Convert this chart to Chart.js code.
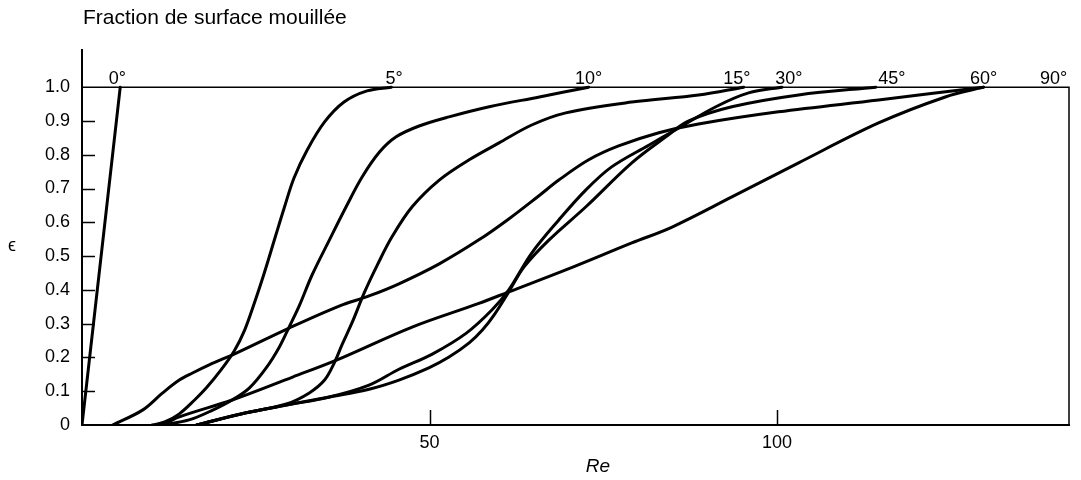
<!DOCTYPE html>
<html>
<head>
<meta charset="utf-8">
<script src="https://cdn.jsdelivr.net/npm/chart.js@4/dist/chart.umd.min.js"></script>
<style>
  html, body { margin: 0; padding: 0; background: #fff; }
  #wrap { width: 1081px; height: 480px; }
</style>
</head>
<body>
<div id="wrap"><canvas id="c" width="1081" height="480"></canvas></div>
<script>
// Fraction de surface mouillée ϵ en fonction de Re, pour plusieurs inclinaisons
const angleNames = ['0°', '5°', '10°', '15°', '30°', '45°', '60°', '90°'];

const re0  = [0, 5.5];
const eps0 = [0, 1.0];

const re5  = [10.1, 11.9, 14.0, 16.2, 17.9, 20.0, 21.9, 23.4, 24.8, 25.9, 26.9, 27.9, 29.1, 30.5, 32.4, 34.9, 37.7, 41.0, 44.5];
const eps5 = [0, 0.009, 0.033, 0.074, 0.110, 0.163, 0.219, 0.281, 0.361, 0.429, 0.495, 0.563, 0.643, 0.731, 0.814, 0.897, 0.956, 0.989, 1.0];

const re10  = [11.6, 15.4, 18.8, 21.6, 24.1, 26.5, 28.4, 29.8, 31.3, 33.1, 35.6, 38.0, 40.3, 42.8, 45.2, 48.5, 52.8, 58.6, 65.8, 72.9];
const eps10 = [0, 0.015, 0.044, 0.074, 0.110, 0.169, 0.231, 0.290, 0.355, 0.444, 0.548, 0.646, 0.734, 0.808, 0.853, 0.885, 0.912, 0.942, 0.971, 1.0];

const re15  = [16.5, 23.6, 29.4, 32.7, 34.9, 36.3, 37.4, 38.9, 40.6, 42.5, 44.6, 47.5, 51.4, 55.7, 60.0, 64.7, 69.6, 79.1, 88.7, 95.2];
const eps15 = [0, 0.036, 0.062, 0.095, 0.133, 0.184, 0.237, 0.305, 0.391, 0.474, 0.557, 0.646, 0.725, 0.785, 0.835, 0.888, 0.924, 0.956, 0.977, 1.0];

const re30  = [16.5, 23.6, 29.4, 35.6, 41.3, 45.6, 50.4, 55.3, 59.0, 61.4, 64.7, 68.6, 72.5, 76.2, 81.6, 84.9, 91.2, 95.9, 100.7];
const eps30 = [0, 0.036, 0.059, 0.083, 0.118, 0.165, 0.210, 0.272, 0.341, 0.400, 0.509, 0.607, 0.696, 0.764, 0.829, 0.868, 0.942, 0.983, 1.0];

const re45  = [16.5, 23.6, 29.4, 35.6, 41.3, 45.6, 49.9, 52.8, 55.7, 57.6, 59.3, 61.4, 63.6, 67.2, 72.5, 79.1, 84.0, 87.3, 93.5, 103.1, 114.2];
const eps45 = [0, 0.036, 0.059, 0.083, 0.106, 0.133, 0.169, 0.201, 0.243, 0.281, 0.326, 0.394, 0.468, 0.548, 0.646, 0.776, 0.853, 0.900, 0.942, 0.977, 1.0];

const re60  = [4.4, 8.7, 11.6, 14.0, 15.9, 18.3, 22.2, 29.8, 37.0, 41.3, 45.6, 51.4, 57.1, 61.4, 65.7, 68.6, 72.9, 77.2, 83.0, 88.7, 100.2, 114.6, 129.7];
const eps60 = [0, 0.044, 0.095, 0.133, 0.154, 0.178, 0.213, 0.287, 0.352, 0.382, 0.418, 0.477, 0.548, 0.610, 0.678, 0.725, 0.785, 0.826, 0.865, 0.891, 0.927, 0.962, 1.0];

const re90  = [11.6, 14.0, 21.6, 30.3, 36.6, 47.5, 57.1, 61.4, 69.6, 79.1, 84.9, 93.5, 103.1, 114.6, 124.2, 129.7];
const eps90 = [0, 0.024, 0.074, 0.142, 0.192, 0.290, 0.360, 0.394, 0.459, 0.539, 0.586, 0.675, 0.776, 0.894, 0.971, 1.0];

// Re where each angle label is centred, above the ϵ = 1 line
const angleLabelRe = [5.1, 44.9, 72.9, 94.2, 101.7, 116.5, 129.7, 139.8];

const xTicks = [50, 100];
const xTickLabels = ['50', '100'];
const yTicks = [0, 0.1, 0.2, 0.3, 0.4, 0.5, 0.6, 0.7, 0.8, 0.9, 1.0];
const yTickLabels = ['0', '0.1', '0.2', '0.3', '0.4', '0.5', '0.6', '0.7', '0.8', '0.9', '1.0'];

const RE_MAX = 142;
const EPS_MAX = 1.11;
const EPS_FULL = 1.0;

const seriesRe  = [re0, re5, re10, re15, re30, re45, re60, re90];
const seriesEps = [eps0, eps5, eps10, eps15, eps30, eps45, eps60, eps90];

const FONT = "'Liberation Sans', Arial, Helvetica, sans-serif";

const datasets = seriesRe.map((xs, k) => ({
  label: angleNames[k],
  data: xs.map((x, i) => ({ x: x, y: seriesEps[k][i] })),
  borderColor: '#000',
  borderWidth: 3,
  borderJoinStyle: 'round',
  borderCapStyle: 'round',
  pointRadius: 0,
  fill: false,
  cubicInterpolationMode: 'default',
  tension: k === 0 ? 0 : 0.35
}));

// frame, inner tick marks and free text
const decor = {
  id: 'decor',
  beforeDatasetsDraw(chart) {
    const { ctx } = chart;
    const xs = chart.scales.x, ys = chart.scales.y;
    ctx.save();
    ctx.strokeStyle = '#000';
    ctx.lineCap = 'butt';
    // ϵ = 1 line and right edge
    ctx.lineWidth = 1.5;
    ctx.beginPath();
    ctx.moveTo(xs.getPixelForValue(0), ys.getPixelForValue(EPS_FULL));
    ctx.lineTo(xs.getPixelForValue(RE_MAX), ys.getPixelForValue(EPS_FULL));
    ctx.lineTo(xs.getPixelForValue(RE_MAX), ys.getPixelForValue(0));
    ctx.stroke();
    // inner ticks on the ϵ axis
    const x0 = xs.getPixelForValue(0);
    yTicks.forEach(v => {
      if (v === 0 || v === EPS_FULL) return;
      const y = Math.round(ys.getPixelForValue(v)) + 0.5;
      ctx.beginPath();
      ctx.moveTo(x0, y);
      ctx.lineTo(x0 + 13, y);
      ctx.stroke();
    });
    // inner ticks on the Re axis
    const y0 = ys.getPixelForValue(0);
    xTicks.forEach(v => {
      const x = Math.round(xs.getPixelForValue(v)) + 0.5;
      ctx.beginPath();
      ctx.moveTo(x, y0);
      ctx.lineTo(x, y0 - 15);
      ctx.stroke();
    });
    ctx.restore();
  },
  afterDatasetsDraw(chart) {
    const { ctx } = chart;
    const xs = chart.scales.x, ys = chart.scales.y;
    ctx.save();
    ctx.fillStyle = '#000';
    // angle labels
    ctx.font = '18px ' + FONT;
    ctx.textAlign = 'center';
    ctx.textBaseline = 'alphabetic';
    const yTop = ys.getPixelForValue(EPS_FULL);
    angleNames.forEach((t, k) => {
      ctx.fillText(t, xs.getPixelForValue(angleLabelRe[k]), yTop - 3);
    });
    // title
    ctx.font = '21px ' + FONT;
    ctx.textAlign = 'left';
    ctx.textBaseline = 'middle';
    ctx.fillText('Fraction de surface mouillée', 83, 18);
    // ϵ axis name
    ctx.font = '18px ' + FONT;
    ctx.textAlign = 'center';
    ctx.fillText('ϵ', 12, 246);
    // Re axis name
    ctx.font = 'italic 19px ' + FONT;
    ctx.fillText('Re', 598, 467);
    ctx.restore();
  }
};

new Chart(document.getElementById('c'), {
  type: 'line',
  data: { datasets },
  options: {
    responsive: false,
    animation: false,
    events: [],
    layout: { padding: { top: 50, right: 12, bottom: 0, left: 0 } },
    plugins: { legend: { display: false }, tooltip: { enabled: false }, title: { display: false } },
    scales: {
      x: {
        type: 'linear',
        min: 0,
        max: RE_MAX,
        afterBuildTicks: s => { s.ticks = xTicks.map(v => ({ value: v })); },
        afterFit: s => { s.height = 55; },
        ticks: {
          callback: (v, i) => xTickLabels[i],
          color: '#000',
          font: { family: FONT, size: 18 },
          padding: 7,
          maxRotation: 0,
          autoSkip: false
        },
        grid: { drawOnChartArea: false, drawTicks: false },
        border: { display: true, color: '#000', width: 2 }
      },
      y: {
        type: 'linear',
        min: 0,
        max: EPS_MAX,
        afterBuildTicks: s => { s.ticks = yTicks.map(v => ({ value: v })); },
        afterFit: s => { s.width = 82; },
        ticks: {
          callback: (v, i) => yTickLabels[i],
          color: '#000',
          font: { family: FONT, size: 18 },
          padding: 12,
          autoSkip: false
        },
        grid: { drawOnChartArea: false, drawTicks: false },
        border: { display: true, color: '#000', width: 2 }
      }
    }
  },
  plugins: [decor]
});
</script>
</body>
</html>
